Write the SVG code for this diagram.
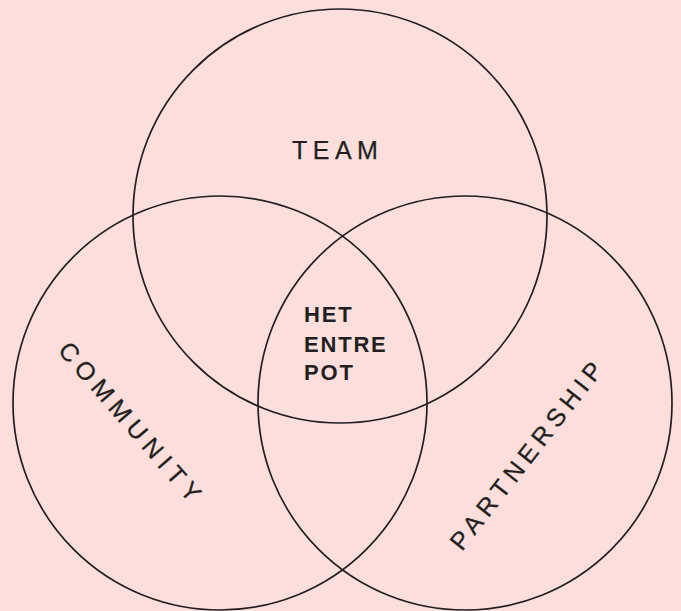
<svg xmlns="http://www.w3.org/2000/svg" width="681" height="611" viewBox="0 0 681 611">
<style>
.c{fill:none;stroke:#231f20;stroke-width:1.7}
.l{font-family:"Liberation Sans",Arial,sans-serif;font-size:25px;fill:#231f20;letter-spacing:5.5px;stroke:#231f20;stroke-width:0.25}
.b{font-family:"Liberation Sans",Arial,sans-serif;font-size:22px;font-weight:bold;fill:#231f20;letter-spacing:1.8px}
</style>
<rect width="681" height="611" fill="#fcdfdc"/>
<g id="team"><circle class="c" cx="340" cy="216" r="207"/><text class="l" x="292" y="159">TEAM</text></g>
<g id="community"><circle class="c" cx="220" cy="403" r="207"/><text class="l" transform="translate(57,351) rotate(49)" style="letter-spacing:6px">COMMUNITY</text></g>
<g id="partnership"><circle class="c" cx="465" cy="403" r="207"/><text class="l" transform="translate(462,552) rotate(-52)">PARTNERSHIP</text></g>
<g id="het-entrepot"><text class="b" x="304" y="322">HET</text><text class="b" x="304" y="352">ENTRE</text><text class="b" x="304" y="380">POT</text></g>
<g id="connectors"></g>
</svg>
